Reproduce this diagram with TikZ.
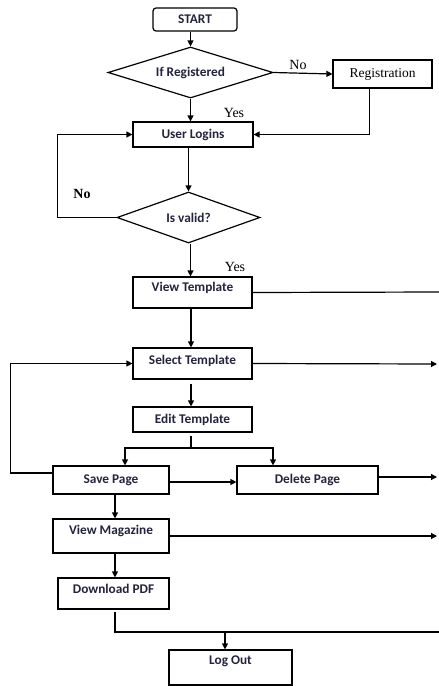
\documentclass[tikz,border=0pt]{standalone}
\usepackage{fontspec}
\setmainfont{Liberation Serif}
\newfontfamily\boxfont{Carlito}
\usetikzlibrary{shapes.geometric,arrows.meta}
\definecolor{boxtext}{RGB}{35,35,60}

\tikzset{
  stepbox/.style={draw, rectangle, line width=1.2pt, inner sep=0pt, text=boxtext,
    font=\boxfont\bfseries\fontsize{13.3}{15}\selectfont},
  topbox/.style={stepbox, text height=9pt, text depth=#1},
  startbox/.style={stepbox, rounded corners=3pt},
  decision/.style={draw, diamond, line width=1.2pt, inner sep=0pt, aspect=3.2, text=boxtext,
    font=\boxfont\bfseries\fontsize{13.3}{15}\selectfont},
  lbl/.style={font=\fontsize{14}{16}\selectfont},
  conn/.style={line width=1.2pt},
  arr/.style={conn, -{Triangle[length=6pt,width=6pt]}}
}

\begin{document}
\begin{tikzpicture}[x=1pt, y=-1pt]
  \useasboundingbox (0,0) rectangle (439,686);

  % Define nodes
  \node[startbox, minimum width=84pt, minimum height=23pt] (start) at (195,19.5) {START};
  \node[decision, minimum width=165pt, minimum height=51pt] (ifreg) at (190.5,72.5) {If Registered};
  \node[stepbox, text=black, font=\fontsize{13.5}{15}\selectfont, minimum width=99pt, minimum height=28pt] (regist) at (382.5,74) {Registration};
  \node[stepbox, minimum width=120pt, minimum height=25pt] (login) at (193,134.5) {User Logins};
  \node[decision, minimum width=143pt, minimum height=51pt] (valid) at (188.5,217.5) {Is valid?};
  \node[topbox=11pt, minimum width=119pt, minimum height=31pt] (viewt) at (192.5,292.5) {View Template};
  \node[topbox=7pt, minimum width=119pt, minimum height=31pt] (selectt) at (192.5,363.5) {Select Template};
  \node[stepbox, minimum width=119pt, minimum height=25pt] (editt) at (192.5,419.5) {Edit Template};
  \node[stepbox, minimum width=116pt, minimum height=28pt] (save) at (111,480) {Save Page};
  \node[stepbox, minimum width=141pt, minimum height=28pt] (delete) at (307.5,480) {Delete Page};
  \node[topbox=13pt, minimum width=116pt, minimum height=34pt] (viewm) at (111,536) {View Magazine};
  \node[topbox=10pt, minimum width=111pt, minimum height=31pt] (pdf) at (113.5,593.5) {Download PDF};
  \node[topbox=15pt, minimum width=123pt, minimum height=35pt] (logout) at (230.5,667.5) {Log Out};

  \node[lbl] (no1) at (298,65) {No};
  \node[lbl] (yes1) at (234,113) {Yes};
  \node[lbl, font=\bfseries\fontsize{14}{16}\selectfont] (no2) at (82,194) {No};
  \node[lbl] (yes2) at (235,267) {Yes};

  \coordinate (split) at (191,448);
  \coordinate (merge) at (225,632);
  \coordinate (out1) at (439,292);
  \coordinate (out2) at (437,364);
  \coordinate (out3) at (437,477);
  \coordinate (out4) at (437,536);
  \coordinate (out5) at (439,632);

  % Connect the nodes
  \draw[arr] (ifreg.north |- start.south) -- (ifreg.north);
  \draw[arr] (ifreg.south) -- (ifreg.south |- login.north);
  \draw[arr] (ifreg.east) -- (regist.west);
  \draw[arr] ([xshift=-13pt]regist.south) |- (login.east);
  \draw[arr] (valid.north |- login.south) -- (valid.north);
  \draw[arr] (valid.west) -- ++(-59,0) |- (login.west);
  \draw[arr] ([xshift=2pt]valid.south) -- ([xshift=2pt]valid.south |- viewt.north);
  \draw[conn] (viewt.east) -- (out1);
  \draw[arr] ([xshift=-1.5pt]viewt.south) -- ([xshift=-1.5pt]selectt.north);
  \draw[arr] (selectt.east) -- (out2);
  \draw[arr, shorten <=4pt] ([xshift=-1.5pt]selectt.south) -- ([xshift=-1.5pt]editt.north);
  \draw[conn, shorten <=3pt] ([xshift=-1.5pt]editt.south) -- (split);
  \draw[arr] (split) -| ([xshift=14pt]save.north);
  \draw[arr] (split) -| ([xshift=-34.5pt]delete.north);
  \draw[arr] ([yshift=-2pt]save.east) -- ([yshift=-2pt]delete.west);
  \draw[arr] ([yshift=3pt]delete.east) -- (out3);
  \draw[arr] ([yshift=7pt]save.west) -- ++(-42,0) |- (selectt.west);
  \draw[arr] ([xshift=4pt]save.south) -- ([xshift=4pt]viewm.north);
  \draw[arr] (viewm.east) -- (out4);
  \draw[arr] ([xshift=4pt]viewm.south) -- ([xshift=1.5pt]pdf.north);
  \draw[conn, shorten <=2pt] ([xshift=1.5pt]pdf.south) |- (out5);
  \draw[arr] (merge) -- (merge |- logout.north);
\end{tikzpicture}
\end{document}
